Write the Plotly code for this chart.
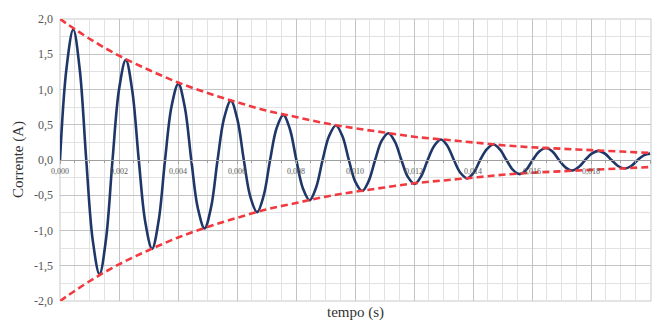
import plotly.graph_objects as go

# time samples (s) and current (A)
t_curve = [0.0, 0.00022, 0.00045, 0.00067, 0.00089, 0.00111, 0.00134, 0.00156,
           0.00178, 0.00200, 0.00223, 0.00245, 0.00267, 0.00289, 0.00312, 0.00334,
           0.00356, 0.00378, 0.00401, 0.00423, 0.00445, 0.00467, 0.00490, 0.00512,
           0.00534, 0.00556, 0.00579, 0.00601, 0.00623, 0.00645, 0.00668, 0.00690,
           0.00712, 0.00734, 0.00757, 0.00779, 0.00801, 0.00823, 0.00846, 0.00868,
           0.00890, 0.00912, 0.00935, 0.00957, 0.00979, 0.01001, 0.01024, 0.01046,
           0.01068, 0.01090, 0.01113, 0.01135, 0.01157, 0.01179, 0.01202, 0.01224,
           0.01246, 0.01268, 0.01291, 0.01313, 0.01335, 0.01357, 0.01380, 0.01402,
           0.01424, 0.01446, 0.01469, 0.01491, 0.01513, 0.01535, 0.01558, 0.01580,
           0.01602, 0.01624, 0.01647, 0.01669, 0.01691, 0.01713, 0.01736, 0.01758,
           0.01780, 0.01802, 0.01825, 0.01847, 0.01869, 0.01891, 0.01914, 0.01936,
           0.01958, 0.01980, 0.02000]
i_curve = [0.0, 1.30, 1.85, 1.28, 0.0, -1.14, -1.62, -1.12,
           0.0, 1.00, 1.42, 0.98, 0.0, -0.88, -1.26, -0.87,
           0.0, 0.76, 1.08, 0.75, 0.0, -0.68, -0.97, -0.67,
           0.0, 0.59, 0.84, 0.58, 0.0, -0.52, -0.74, -0.51,
           0.0, 0.45, 0.64, 0.44, 0.0, -0.40, -0.57, -0.39,
           0.0, 0.34, 0.49, 0.34, 0.0, -0.31, -0.44, -0.30,
           0.0, 0.27, 0.38, 0.26, 0.0, -0.24, -0.34, -0.23,
           0.0, 0.20, 0.29, 0.20, 0.0, -0.18, -0.26, -0.18,
           0.0, 0.15, 0.22, 0.15, 0.0, -0.14, -0.20, -0.14,
           0.0, 0.12, 0.17, 0.12, 0.0, -0.105, -0.15, -0.10,
           0.0, 0.09, 0.13, 0.09, 0.0, -0.085, -0.12, -0.085,
           0.0, 0.07, 0.09]

t_env = [0.000, 0.001, 0.002, 0.003, 0.004, 0.005, 0.006, 0.007, 0.008, 0.009, 0.010,
         0.011, 0.012, 0.013, 0.014, 0.015, 0.016, 0.017, 0.018, 0.019, 0.020]
env_upper = [2.00, 1.72, 1.48, 1.28, 1.10, 0.95, 0.82, 0.70, 0.61, 0.52, 0.45,
             0.39, 0.33, 0.29, 0.25, 0.21, 0.18, 0.16, 0.14, 0.12, 0.10]
env_lower = [-2.00, -1.72, -1.48, -1.28, -1.10, -0.95, -0.82, -0.70, -0.61, -0.52, -0.45,
             -0.39, -0.33, -0.29, -0.25, -0.21, -0.18, -0.16, -0.14, -0.12, -0.10]

y_tickvals = [-2.0, -1.5, -1.0, -0.5, 0.0, 0.5, 1.0, 1.5, 2.0]
y_ticktext = ["-2,0", "-1,5", "-1,0", "-0,5", "0,0", "0,5", "1,0", "1,5", "2,0"]

SERIF = "Liberation Serif"

fig = go.Figure()
fig.add_trace(go.Scatter(x=t_curve, y=i_curve, mode="lines",
                         line=dict(color="#1f3768", width=2.6, shape="spline", smoothing=1.0),
                         showlegend=False))
fig.add_trace(go.Scatter(x=t_env, y=env_upper, mode="lines",
                         line=dict(color="#f03a3f", width=2.6, dash="7px,4px", shape="spline"),
                         showlegend=False))
fig.add_trace(go.Scatter(x=t_env, y=env_lower, mode="lines",
                         line=dict(color="#f03a3f", width=2.6, dash="7px,4px", shape="spline"),
                         showlegend=False))

fig.update_layout(
    width=659, height=320,
    margin=dict(l=60, r=8, t=19, b=19),
    paper_bgcolor="white", plot_bgcolor="white",
    separators=",.",
    font=dict(family=SERIF, color="#444444"),
    xaxis=dict(range=[0, 0.02003], dtick=0.002, tick0=0, tickformat=".3f",
               anchor="free", position=0.5,
               showline=True, linecolor="#a0a0a0", linewidth=1,
               ticks="outside", ticklen=3, tickcolor="#a0a0a0",
               tickfont=dict(size=8, color="#5a5a5a", family=SERIF),
               showgrid=True, gridcolor="#c4c4c4", gridwidth=1,
               zeroline=False,
               minor=dict(tickmode="linear", tick0=0, dtick=0.0005, showgrid=True,
                          gridcolor="#e2e2e2", ticks="outside", ticklen=2,
                          tickcolor="#a0a0a0")),
    yaxis=dict(range=[-2, 2], tickmode="array", tickvals=y_tickvals, ticktext=y_ticktext,
               tickfont=dict(size=12, color="#555555", family=SERIF),
               showgrid=True, gridcolor="#c4c4c4", gridwidth=1,
               zeroline=False, showline=False, ticks="", ticklabelstandoff=6,
               minor=dict(tickmode="linear", tick0=0, dtick=0.25, showgrid=True,
                          gridcolor="#e2e2e2")),
    shapes=[dict(type="rect", xref="paper", yref="paper", x0=0, x1=1, y0=0, y1=1,
                 line=dict(color="#c8c8c8", width=1), layer="below")],
    annotations=[
        dict(text="Corrente (A)", xref="paper", yref="paper", x=0, y=0.5,
             xshift=-42, textangle=-90, showarrow=False,
             font=dict(size=15, color="#333333", family=SERIF),
             xanchor="center", yanchor="middle"),
        dict(text="tempo (s)", xref="paper", yref="paper", x=0.5, y=0,
             yshift=-11, showarrow=False,
             font=dict(size=15, color="#333333", family=SERIF),
             xanchor="center", yanchor="middle"),
    ],
)

fig.write_html("out.html", config={"displayModeBar": False},
               post_script="document.body.style.margin='0';document.body.style.overflow='hidden';")
